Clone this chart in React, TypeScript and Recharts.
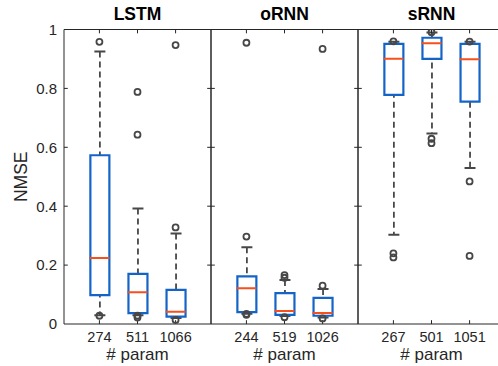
import React from 'react';
import { ComposedChart, Bar, Scatter, XAxis, YAxis, ReferenceArea, ReferenceLine } from 'recharts';

// LSTM
const lstmParams = ['274', '511', '1066'];
const lstmLow = [0.03, 0.03, 0.02];
const lstmQ1 = [0.098, 0.037, 0.025];
const lstmMedian = [0.224, 0.108, 0.042];
const lstmQ3 = [0.573, 0.17, 0.116];
const lstmHigh = [0.925, 0.392, 0.307];
const lstmOutliers = [[0.958, 0.028], [0.788, 0.643, 0.028, 0.022], [0.947, 0.328, 0.014]];

// oRNN
const ornnParams = ['244', '519', '1026'];
const ornnLow = [0.035, 0.027, 0.022];
const ornnQ1 = [0.04, 0.031, 0.028];
const ornnMedian = [0.121, 0.044, 0.037];
const ornnQ3 = [0.162, 0.105, 0.089];
const ornnHigh = [0.261, 0.149, 0.119];
const ornnOutliers = [[0.955, 0.297, 0.034, 0.031], [0.166, 0.157, 0.023], [0.934, 0.13, 0.019]];

// sRNN
const srnnParams = ['267', '501', '1051'];
const srnnLow = [0.303, 0.647, 0.53];
const srnnQ1 = [0.778, 0.9, 0.755];
const srnnMedian = [0.901, 0.953, 0.899];
const srnnQ3 = [0.951, 0.972, 0.951];
const srnnHigh = [0.958, 0.99, 0.958];
const srnnOutliers = [[0.96, 0.24, 0.226], [0.991, 0.629, 0.614], [0.959, 0.484, 0.231]];

const yTicks = [0, 0.2, 0.4, 0.6, 0.8, 1];
const xTicks = [1, 2, 3];
const xDomain = [0.07, 3.93];
const yDomain = [0, 1];

// inward tick length, in axis units (~4px)
const tickDX = 0.1;
const tickDY = 0.013;

const AXIS = '#262626';
const BLUE = '#1464c8';
const RED = '#f5501e';
const GRAY = '#474747';

const makeRows = (params: string[], low: number[], q1: number[], med: number[], q3: number[], high: number[]) =>
  params.map((p, i) => ({ x: i + 1, label: p, low: low[i], q1: q1[i], med: med[i], q3: q3[i], high: high[i] }));

const makeOutliers = (groups: number[][]) =>
  groups.flatMap((g, i) => g.map((v) => ({ x: i + 1, v })));

const WhiskerShape = (props: any) => {
  const { x, y, width, height } = props;
  const cx = x + width / 2;
  const top = Math.min(y, y + height);
  const bottom = Math.max(y, y + height);
  const cap = 5.5;
  return (
    <g>
      <line x1={cx} x2={cx} y1={top} y2={bottom} stroke={GRAY} strokeWidth={1.8} strokeDasharray="6 4" />
      <line x1={cx - cap} x2={cx + cap} y1={top} y2={top} stroke={GRAY} strokeWidth={2} />
      <line x1={cx - cap} x2={cx + cap} y1={bottom} y2={bottom} stroke={GRAY} strokeWidth={2} />
    </g>
  );
};

const MedianShape = (props: any) => (
  <line x1={props.cx - 10} x2={props.cx + 10} y1={props.cy} y2={props.cy} stroke={RED} strokeWidth={2} />
);

const OutlierShape = (props: any) => (
  <circle cx={props.cx} cy={props.cy} r={3} fill="none" stroke={GRAY} strokeWidth={1.8} />
);

const Panel: React.FC<{
  title: string;
  rows: ReturnType<typeof makeRows>;
  outliers: { x: number; v: number }[];
  left: number;
  width: number;
  showY: boolean;
}> = ({ title, rows, outliers, left, width, showY }) => {
  const labels = rows.map((r) => r.label);
  const yTickSegs = yTicks.slice(1, -1).flatMap((t) => [
    [{ x: xDomain[0], y: t }, { x: xDomain[0] + tickDX, y: t }],
    [{ x: xDomain[1] - tickDX, y: t }, { x: xDomain[1], y: t }],
  ]);
  const xTickSegs = xTicks.flatMap((t) => [
    [{ x: t, y: yDomain[0] }, { x: t, y: yDomain[0] + tickDY }],
    [{ x: t, y: yDomain[1] - tickDY }, { x: t, y: yDomain[1] }],
  ]);
  return (
    <div style={{ position: 'absolute', left, top: 0 }}>
      <ComposedChart width={width} height={366} data={rows} margin={{ top: 28.5, right: 0, bottom: 0, left: 0 }}>
        <XAxis
          xAxisId="main"
          dataKey="x"
          type="number"
          domain={xDomain}
          ticks={xTicks}
          interval={0}
          allowDataOverflow
          tickFormatter={(v: number) => labels[v - 1]}
          height={42}
          tickLine={false}
          axisLine={false}
          tickSize={0}
          tickMargin={8}
          tick={{ fill: AXIS, fontSize: 14.5 }}
          label={{ value: '# param', position: 'insideBottom', offset: 6, fill: AXIS, fontSize: 17 }}
        />
        <XAxis xAxisId="whisk" dataKey="x" type="number" domain={xDomain} ticks={xTicks} allowDataOverflow hide />
        <XAxis
          xAxisId="top"
          orientation="top"
          dataKey="x"
          type="number"
          domain={xDomain}
          ticks={xTicks}
          allowDataOverflow
          height={1}
          tick={false}
          tickLine={false}
          axisLine={false}
          label={{ value: title, position: 'top', offset: 9, fill: '#000', fontSize: 17.5, fontWeight: 'bold' }}
        />
        <YAxis
          yAxisId="l"
          type="number"
          domain={yDomain}
          ticks={yTicks}
          interval={0}
          allowDataOverflow
          width={showY ? 64 : 1}
          tick={showY ? { fill: AXIS, fontSize: 15 } : false}
          tickFormatter={(v: number) => String(v)}
          tickLine={false}
          axisLine={false}
          tickSize={0}
          tickMargin={7}
          label={
            showY
              ? { value: 'NMSE', angle: -90, position: 'insideLeft', offset: 21, fill: AXIS, fontSize: 17.5, style: { textAnchor: 'middle' } }
              : undefined
          }
        />
        <YAxis
          yAxisId="r"
          orientation="right"
          type="number"
          domain={yDomain}
          ticks={yTicks}
          width={1}
          tick={false}
          tickLine={false}
          axisLine={false}
        />
        <ReferenceArea
          xAxisId="main"
          yAxisId="l"
          x1={xDomain[0]}
          x2={xDomain[1]}
          y1={yDomain[0]}
          y2={yDomain[1]}
          fill="none"
          fillOpacity={0}
          stroke={AXIS}
          strokeWidth={1}
          ifOverflow="visible"
        />
        {[...yTickSegs, ...xTickSegs].map((seg, i) => (
          <ReferenceLine key={`tk-${i}`} xAxisId="main" yAxisId="l" segment={seg} stroke={AXIS} strokeWidth={1} ifOverflow="visible" />
        ))}
        <Bar
          xAxisId="whisk"
          yAxisId="l"
          dataKey={(d: any) => [d.low, d.high]}
          barSize={19}
          shape={WhiskerShape}
          isAnimationActive={false}
        />
        <Bar
          xAxisId="main"
          yAxisId="l"
          dataKey={(d: any) => [d.q1, d.q3]}
          barSize={19}
          fill="#fff"
          stroke={BLUE}
          strokeWidth={2.2}
          isAnimationActive={false}
        />
        <Scatter xAxisId="main" yAxisId="l" dataKey="med" shape={MedianShape} isAnimationActive={false} />
        <Scatter xAxisId="main" yAxisId="l" data={outliers} dataKey="v" shape={OutlierShape} isAnimationActive={false} />
      </ComposedChart>
    </div>
  );
};

export default function App() {
  return (
    <div
      style={{
        position: 'absolute',
        left: 0,
        top: 0,
        width: 498,
        height: 366,
        overflow: 'hidden',
        background: '#fff',
        fontFamily: '"Liberation Sans", Arial, sans-serif',
      }}
    >
      <Panel
        title="LSTM"
        rows={makeRows(lstmParams, lstmLow, lstmQ1, lstmMedian, lstmQ3, lstmHigh)}
        outliers={makeOutliers(lstmOutliers)}
        left={0}
        width={212}
        showY
      />
      <Panel
        title="oRNN"
        rows={makeRows(ornnParams, ornnLow, ornnQ1, ornnMedian, ornnQ3, ornnHigh)}
        outliers={makeOutliers(ornnOutliers)}
        left={210}
        width={149}
        showY={false}
      />
      <Panel
        title="sRNN"
        rows={makeRows(srnnParams, srnnLow, srnnQ1, srnnMedian, srnnQ3, srnnHigh)}
        outliers={makeOutliers(srnnOutliers)}
        left={357}
        width={149}
        showY={false}
      />
    </div>
  );
}
